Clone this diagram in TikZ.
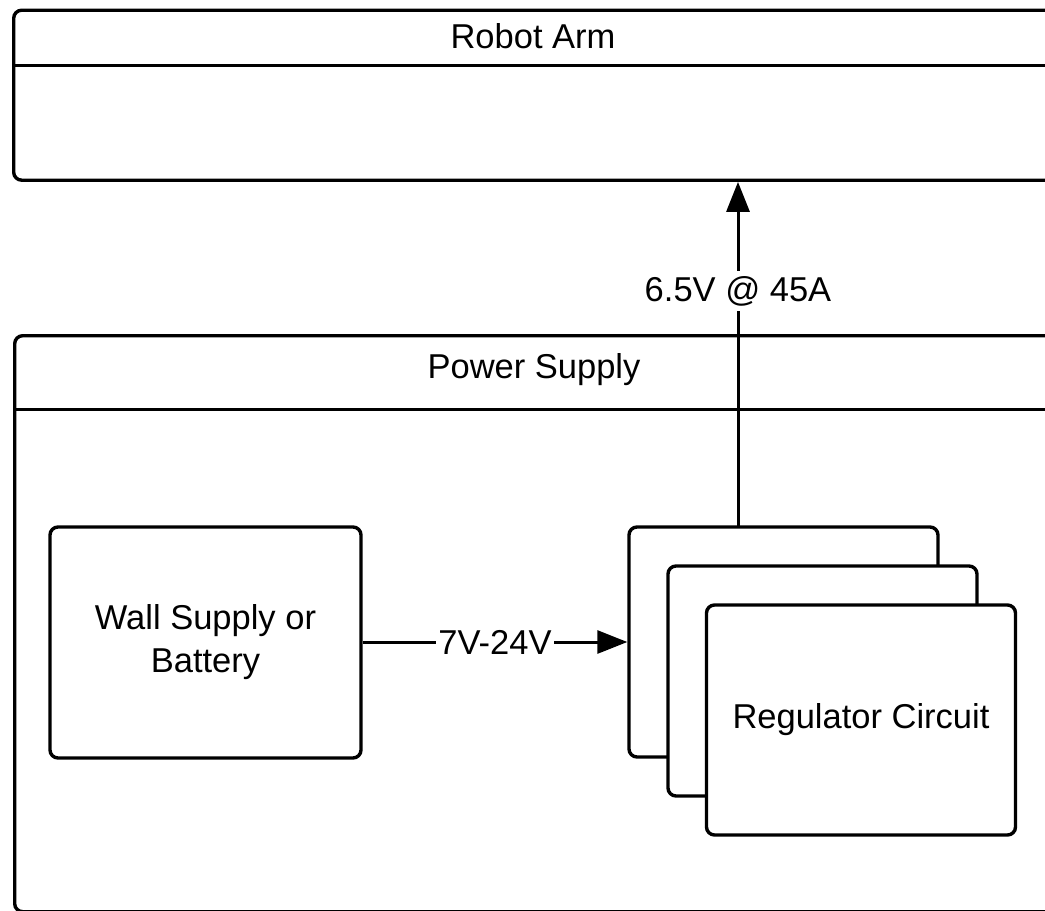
\documentclass[tikz,border=0pt]{standalone}
\usepackage{fontspec}
\setmainfont{Liberation Sans}
\usetikzlibrary{arrows.meta}
\begin{document}
\begin{tikzpicture}[x=1pt,y=-1pt,
  frame/.style={draw=black, line width=3.4pt, rounded corners=8pt},
  box/.style={draw=black, line width=3.4pt, rounded corners=8pt, fill=white, inner sep=0pt, align=center},
  conn/.style={line width=3pt, -{Triangle[length=30pt,width=23pt]}},
  lbl/.style={inner sep=0pt},
  every node/.style={font=\fontsize{34.5}{43}\selectfont}]
\useasboundingbox (0,0) rectangle (1045,911);
\clip (0,0) rectangle (1045,911);
% Robot Arm container
\node[frame, anchor=north west, minimum width=1060pt, minimum height=170pt, inner sep=0pt] (arm) at (12,8.5) {};
\draw[line width=3.4pt] (12,65.5) -- (1080,65.5);
\node[lbl] (armtitle) at (533,36) {Robot Arm};
% Power Supply container
\node[frame, anchor=north west, minimum width=1060pt, minimum height=576pt, inner sep=0pt] (ps) at (13,334) {};
\draw[line width=3.4pt] (13,409.5) -- (1080,409.5);
\node[lbl] (pstitle) at (534,370) {Power Supply};
% Wall supply
\node[box, minimum width=311pt, minimum height=231pt] (wall) at (205.5,642.5) {Wall Supply or\\Battery};
% Regulators
\node[box, minimum width=309pt, minimum height=230pt] (reg1) at (783.5,642) {};
\node[box, minimum width=309pt, minimum height=230pt] (reg2) at (822.5,681) {};
\node[box, minimum width=309pt, minimum height=230pt] (reg3) at (861,720) {Regulator Circuit};
% Connectors
\draw[conn] (wall.east |- 0,642) -- node[fill=white, inner sep=2pt] (lv) {7V-24V} (reg1.west |- 0,642);
\coordinate (regout) at (738,527);
\draw[conn] (regout) -- node[pos=0.683, fill=white, inner xsep=2pt, inner ysep=5pt] (lout) {6.5V @ 45A} (regout |- arm.south);
\end{tikzpicture}
\end{document}
